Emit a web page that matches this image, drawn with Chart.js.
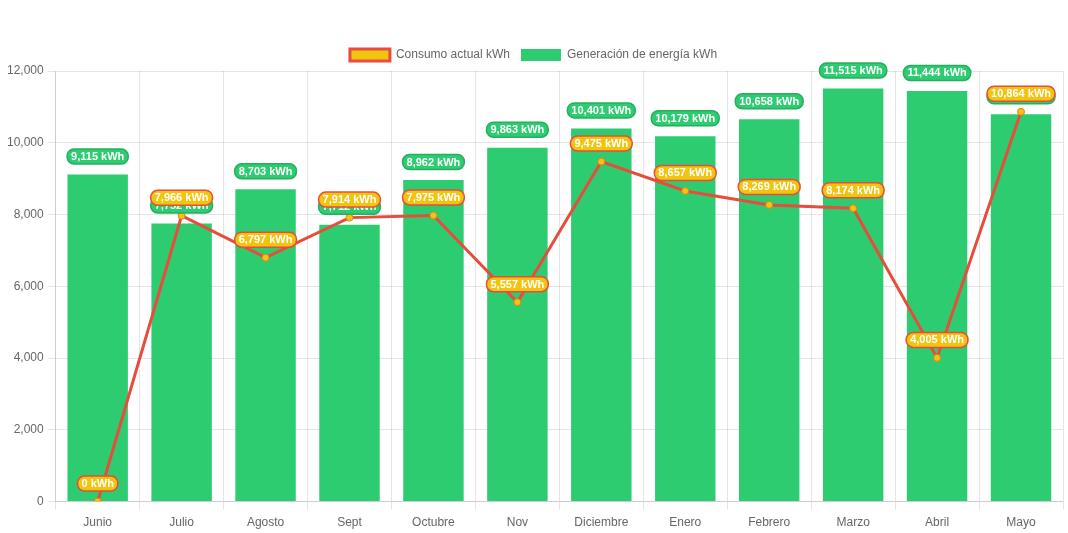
<!DOCTYPE html>
<html>
<head>
<meta charset="utf-8">
<script src="https://cdn.jsdelivr.net/npm/chart.js@4/dist/chart.umd.min.js"></script>
<style>
    html, body {
        margin: 0;
        padding: 0;
        background: #ffffff;
    }

    #chartBox {
        width: 1068px;
        height: 533px;
    }
</style>
</head>
<body>
<div id="chartBox">
    <canvas id="energyChart"></canvas>
</div>
<script>
"use strict";

const months = [
    "Junio", "Julio", "Agosto", "Sept", "Octubre", "Nov",
    "Diciembre", "Enero", "Febrero", "Marzo", "Abril", "Mayo"
];

const consumoKwh = [
    0, 7966, 6797, 7914, 7975, 5557,
    9475, 8657, 8269, 8174, 4005, 10864
];

const generacionKwh = [
    9115, 7752, 8703, 7712, 8962, 9863,
    10401, 10179, 10658, 11515, 11444, 10795
];

const yTicks = [0, 2000, 4000, 6000, 8000, 10000, 12000];

// draws the pill-shaped value labels above bars and points
const valueLabels = {

    id: "valueLabels",

    afterDatasetsDraw(chart) {

        const ctx = chart.ctx;

        // bars first, line labels on top
        const drawOrder = [1, 0];

        drawOrder.forEach(datasetIndex => {

            const dataset = chart.data.datasets[datasetIndex];
            const meta = chart.getDatasetMeta(datasetIndex);

            if (meta.hidden) {
                return;
            }

            meta.data.forEach((element, index) => {

                const text =
                    dataset.data[index].toLocaleString("en-US") + " kWh";

                ctx.save();

                ctx.font = "bold 11px Arial, 'Liberation Sans', sans-serif";

                const width = ctx.measureText(text).width + 8;
                const height = 15;
                const x = element.x - width / 2;
                const y = element.y - 18 - height / 2;

                ctx.beginPath();
                ctx.roundRect(x, y, width, height, 7);
                ctx.fillStyle = dataset.labelBackground;
                ctx.fill();
                ctx.lineWidth = 1.5;
                ctx.strokeStyle = dataset.labelBorder;
                ctx.stroke();

                ctx.fillStyle = "#ffffff";
                ctx.textAlign = "center";
                ctx.textBaseline = "middle";
                ctx.fillText(text, element.x, element.y - 18 + 0.5);

                ctx.restore();
            });
        });
    }
};

new Chart(
    document.getElementById("energyChart"),
    {
        data: {

            labels: months,

            datasets: [
                {
                    type: "line",
                    label: "Consumo actual kWh",
                    data: consumoKwh,
                    borderColor: "#e74c3c",
                    backgroundColor: "#f1c40f",
                    borderWidth: 3,
                    pointRadius: 3.5,
                    pointBackgroundColor: "#f1c40f",
                    pointBorderColor: "#e67e22",
                    pointBorderWidth: 1,
                    tension: 0,
                    fill: false,
                    order: 0,
                    labelBackground: "#f1c40f",
                    labelBorder: "#e74c3c"
                },
                {
                    type: "bar",
                    label: "Generación de energía kWh",
                    data: generacionKwh,
                    backgroundColor: "#2ecc71",
                    borderColor: "#2ecc71",
                    order: 1,
                    labelBackground: "#2ecc71",
                    labelBorder: "#27ae60"
                }
            ]
        },

        options: {

            responsive: true,
            maintainAspectRatio: false,
            animation: false,

            layout: {
                padding: {
                    top: 38,
                    right: 4,
                    left: 3,
                    bottom: -3
                }
            },

            plugins: {

                legend: {
                    display: true,
                    labels: {
                        color: "#666666",
                        padding: 11,
                        font: {
                            size: 12
                        }
                    }
                },

                tooltip: {
                    enabled: false
                }
            },

            scales: {

                x: {
                    ticks: {
                        color: "#666666",
                        padding: 6
                    }
                },

                y: {
                    beginAtZero: true,
                    min: 0,
                    max: 12000,
                    afterBuildTicks(axis) {
                        axis.ticks = yTicks.map(value => ({ value }));
                    },
                    ticks: {
                        color: "#666666",
                        padding: 4
                    }
                }
            }
        },

        plugins: [valueLabels]
    }
);
</script>
</body>
</html>
